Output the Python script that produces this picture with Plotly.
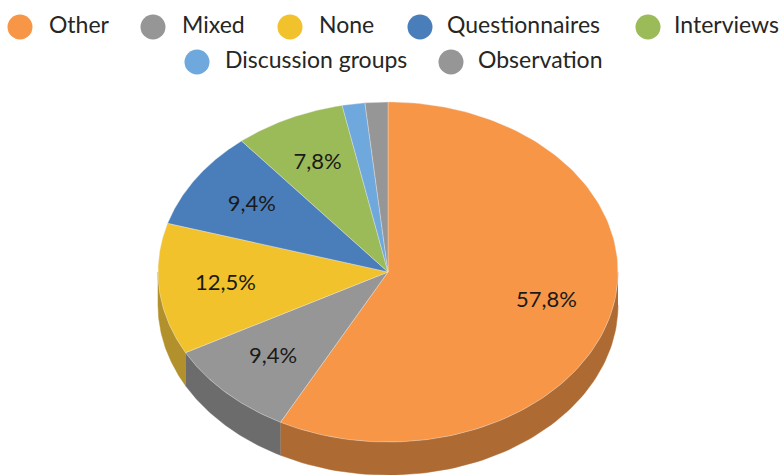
import numpy as np
import plotly.graph_objects as go

categories = ["Other", "Mixed", "None", "Questionnaires", "Interviews", "Discussion groups", "Observation"]
values = [57.8, 9.4, 12.5, 9.4, 7.8, 1.6, 1.6]
top_colors = ["#F79646", "#969696", "#F1C22B", "#4A7EBB", "#9BBB59", "#6FA8DC", "#969696"]
side_colors = ["#AD6A33", "#6C6C6C", "#B2902B", "#34588A", "#6D843E", "#4E769A", "#6C6C6C"]

# Layout constants (pixel-like axis units)
CX, CY, RX, RY, DEPTH = 388.0, 272.0, 230.0, 170.0, 33.0
LABEL_F = 0.71
LABEL_MIN = 5.0
FONT = "Lato, Carlito, Calibri, sans-serif"
legend_x = [20, 153, 290, 420, 648, 197, 451]
legend_y = [27, 27, 27, 27, 27, 62, 62]
legend_text_x = [49, 182, 319, 447, 674, 225, 478]


def ex(a):
    return CX + RX * np.sin(np.radians(a))


def ey(a):
    return CY - RY * np.cos(np.radians(a))


total = sum(values)
edges = np.concatenate([[0.0], np.cumsum(values) / total * 360.0])
fig = go.Figure()

# Side wall: visible only on the front half of the ellipse
for i, name in enumerate(categories):
    a0, a1 = max(edges[i], 90.0), min(edges[i + 1], 270.0)
    if a1 <= a0:
        continue
    t = np.linspace(a0, a1, 80)
    xs = np.concatenate([ex(t), ex(t[::-1])])
    ys = np.concatenate([ey(t), ey(t[::-1]) + DEPTH])
    fig.add_trace(go.Scatter(x=xs, y=ys, mode="lines", fill="toself", fillcolor=side_colors[i],
                             line=dict(color=side_colors[i], width=0.5),
                             hoverinfo="skip", showlegend=False))

# Top face
for i, name in enumerate(categories):
    t = np.linspace(edges[i], edges[i + 1], 160)
    xs = np.concatenate([[CX], ex(t), [CX]])
    ys = np.concatenate([[CY], ey(t), [CY]])
    fig.add_trace(go.Scatter(x=xs, y=ys, mode="lines", fill="toself", fillcolor=top_colors[i],
                             line=dict(color="rgba(235,235,235,0.55)", width=0.7),
                             name=name, text=f"{name}: {values[i]}%", hoverinfo="text", showlegend=False))

# Percent labels
mids = (edges[:-1] + edges[1:]) / 2
lab = [(i, f"{v:.1f}%".replace(".", ",")) for i, v in enumerate(values) if v > LABEL_MIN]
fig.add_trace(go.Scatter(
    x=[CX + LABEL_F * RX * np.sin(np.radians(mids[i])) for i, _ in lab],
    y=[CY - LABEL_F * RY * np.cos(np.radians(mids[i])) for i, _ in lab],
    text=[s for _, s in lab], mode="text", textposition="middle center",
    textfont=dict(family=FONT, size=22, color="#1a1a1a"), hoverinfo="skip", showlegend=False))

# Legend
fig.add_trace(go.Scatter(x=legend_x, y=legend_y, mode="markers",
                         marker=dict(size=25, color=top_colors, line=dict(width=0)),
                         hoverinfo="skip", showlegend=False))
fig.add_trace(go.Scatter(x=legend_text_x, y=legend_y, text=categories, mode="text",
                         textposition="middle right",
                         textfont=dict(family=FONT, size=23, color="#262626"),
                         hoverinfo="skip", showlegend=False))

fig.update_layout(
    width=780, height=475, margin=dict(l=0, r=0, t=0, b=0),
    paper_bgcolor="white", plot_bgcolor="white",
    xaxis=dict(range=[0, 780], visible=False, fixedrange=True),
    yaxis=dict(range=[475, 0], visible=False, fixedrange=True),
)
fig.write_html("out.html", config=dict(displayModeBar=False),
               post_script="document.body.style.margin='0';document.documentElement.style.overflow='hidden';")
